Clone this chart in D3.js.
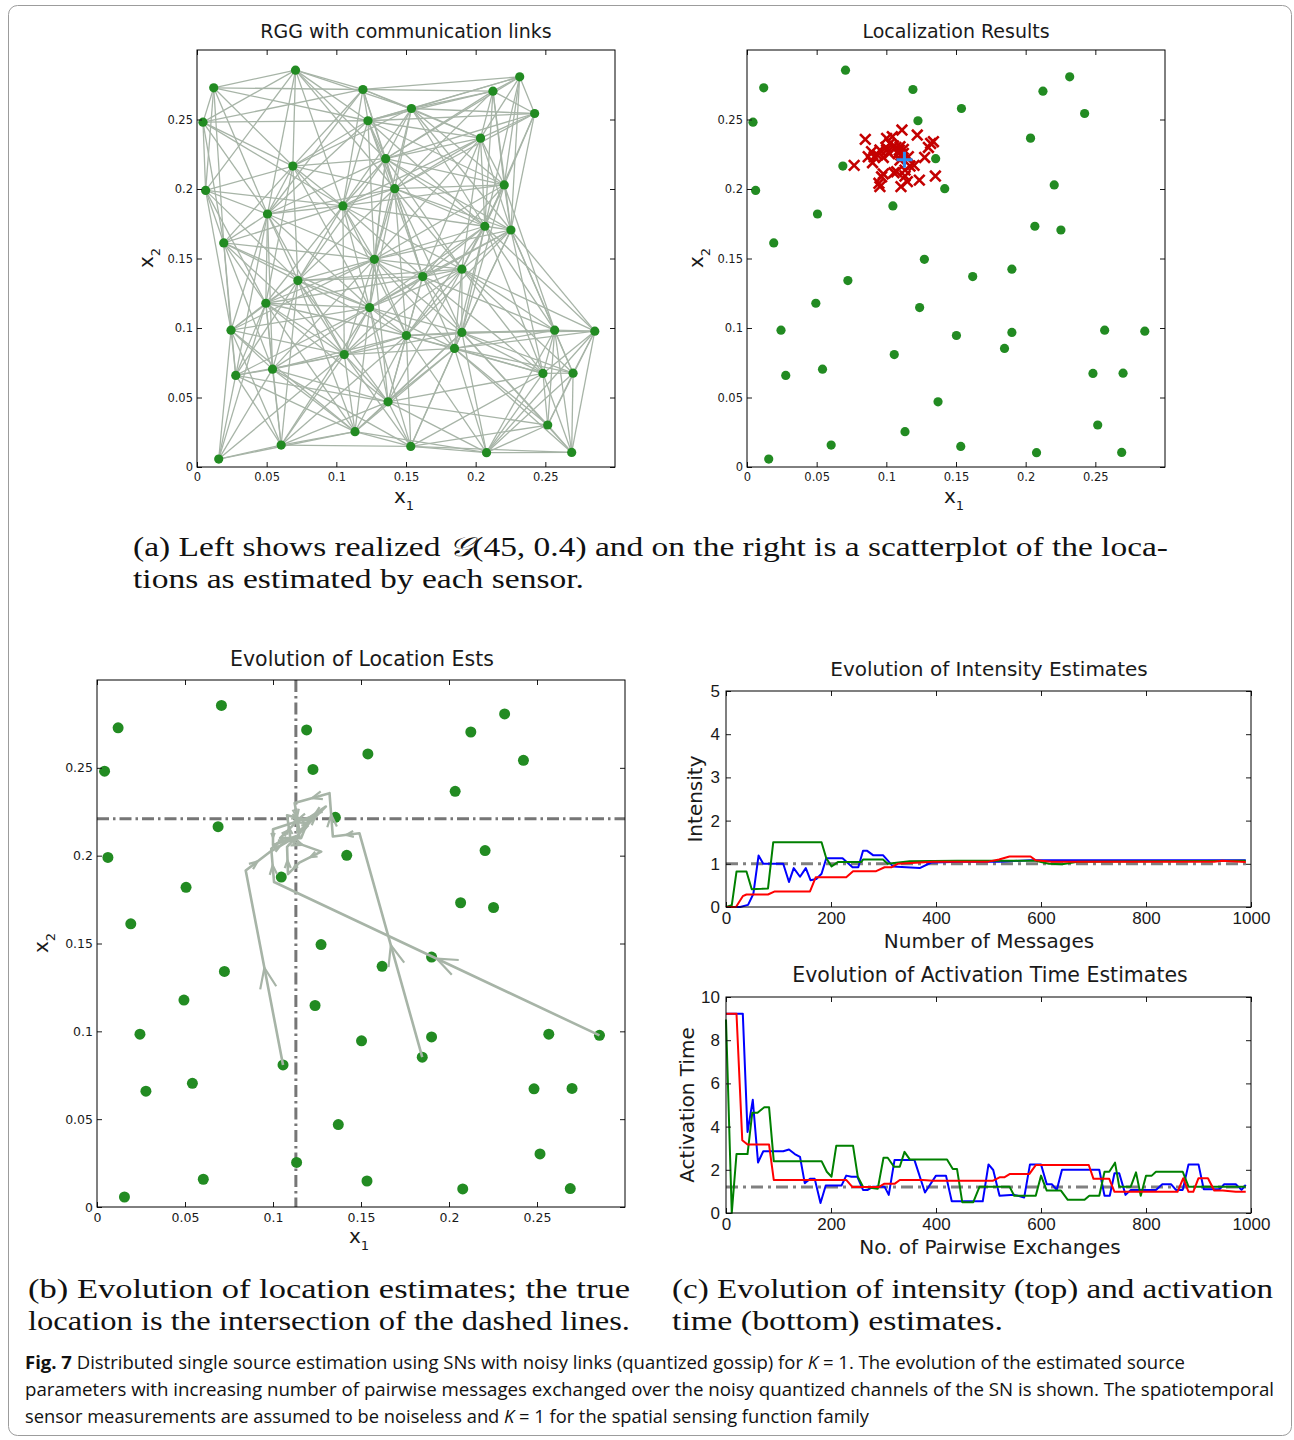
<!DOCTYPE html>
<html>
<head>
<meta charset="utf-8">
<script src="https://cdn.jsdelivr.net/npm/d3@7"></script>
<style>
  body { margin: 0; background: #fff; }
  svg { display: block; }
</style>
</head>
<body>
<svg id="fig" width="1294" height="1440"></svg>
<script>
// sensor positions (x1, x2)
const nodeX = [0.0707, 0.0120, 0.1191, 0.2316, 0.2124, 0.2423, 0.1539, 0.1227, 0.0043, 0.2035,
  0.1354, 0.0688, 0.0062, 0.1419, 0.2205, 0.1047, 0.0506, 0.2066, 0.2253, 0.0192,
  0.1273, 0.1901, 0.1620, 0.0724, 0.0494, 0.1239, 0.0244, 0.2567, 0.2855, 0.1901,
  0.1503, 0.1848, 0.1057, 0.0542, 0.0278, 0.2483, 0.2699, 0.1371, 0.1134, 0.2517,
  0.0604, 0.1534, 0.0156, 0.2078, 0.2689];
const nodeY = [0.2855, 0.2728, 0.2716, 0.2807, 0.2704, 0.2543, 0.2579, 0.2491, 0.2481, 0.2366,
  0.2218, 0.2165, 0.1990, 0.2002, 0.2029, 0.1878, 0.1820, 0.1732, 0.1705, 0.1612,
  0.1494, 0.1423, 0.1370, 0.1341, 0.1178, 0.1147, 0.0984, 0.0984, 0.0977, 0.0968,
  0.0946, 0.0853, 0.0809, 0.0704, 0.0659, 0.0673, 0.0675, 0.0469, 0.0254, 0.0302,
  0.0158, 0.0148, 0.0057, 0.0103, 0.0105];
const linkRadius = 0.12;   // G(45, 0.4) on a 0.3 square

// location estimates of each sensor
const estX = [0.0849, 0.0769, 0.0894, 0.0913, 0.0901, 0.0937, 0.1002, 0.1043, 0.1112, 0.1222,
  0.1338, 0.1302, 0.1275, 0.1199, 0.0997, 0.0978, 0.1021, 0.1069, 0.1093, 0.1122,
  0.1105, 0.1088, 0.1074, 0.1055, 0.1134, 0.1151, 0.1237, 0.1352, 0.0954, 0.0966,
  0.0978, 0.0947, 0.1105, 0.1170, 0.1098, 0.1052, 0.1026, 0.1002, 0.0954, 0.0870,
  0.1134, 0.1318, 0.1158, 0.1098, 0.1122];
const estY = [0.2357, 0.2170, 0.2268, 0.2232, 0.2189, 0.2244, 0.2364, 0.2376, 0.2424, 0.2388,
  0.2340, 0.2299, 0.2227, 0.2170, 0.2299, 0.2227, 0.2256, 0.2299, 0.2280, 0.2285,
  0.2244, 0.2256, 0.2124, 0.2117, 0.2093, 0.2053, 0.2064, 0.2093, 0.2017, 0.2088,
  0.2108, 0.2041, 0.2017, 0.2165, 0.2208, 0.2309, 0.2328, 0.2280, 0.2280, 0.2232,
  0.2136, 0.2328, 0.2232, 0.2304, 0.2256];
const trueLoc = [0.113, 0.221];

// location estimate trajectories of three sensors
const pathA = [[0.1057, 0.0809], [0.0845, 0.1915], [0.0980, 0.2020], [0.1100, 0.2090], [0.1080, 0.2230],
  [0.1200, 0.2200], [0.1160, 0.2100], [0.1040, 0.2100], [0.1120, 0.2180], [0.1130, 0.2210]];
const pathB = [[0.1848, 0.0853], [0.1491, 0.2128], [0.1340, 0.2109], [0.1321, 0.2356], [0.1123, 0.2300],
  [0.1150, 0.2140], [0.1245, 0.2230], [0.1000, 0.2150], [0.1000, 0.2060], [0.1150, 0.2110], [0.1130, 0.2210]];
const pathC = [[0.2855, 0.0977], [0.1006, 0.1850], [0.0990, 0.2040], [0.1060, 0.2100], [0.1274, 0.2023],
  [0.1150, 0.1960], [0.1085, 0.1895], [0.1080, 0.2050], [0.1180, 0.2160], [0.1300, 0.2280],
  [0.1180, 0.2200], [0.1135, 0.2215]];

// intensity estimates vs number of messages
const trueIntensity = 1;
const intBlue = [[0, 0], [27, 0], [42, 0.05], [52, 0.3], [62, 1.19], [71, 1.0], [109, 1.0], [120, 0.58], [129, 0.9],
  [141, 0.7], [152, 0.9], [161, 0.62], [172, 0.65], [182, 0.77], [191, 1.13], [222, 1.13], [241, 0.92], [252, 0.92],
  [261, 1.3], [269, 1.3], [280, 1.2], [299, 1.2], [318, 0.94], [369, 0.9], [391, 1.03], [450, 1.05], [520, 1.05],
  [540, 1.06], [580, 1.08], [700, 1.08], [990, 1.08]];
const intGreen = [[0, 0], [11, 0.04], [20, 0.82], [39, 0.82], [49, 0.41], [68, 0.42], [80, 0.43], [90, 1.5], [182, 1.5],
  [191, 1.13], [201, 0.94], [213, 1.04], [258, 1.04], [261, 1.1], [299, 1.1], [308, 1.0], [350, 1.06], [440, 1.07],
  [590, 1.07], [615, 1.0], [640, 0.99], [670, 1.05], [990, 1.07]];
const intRed = [[0, 0], [19, 0], [32, 0.25], [39, 0.29], [80, 0.29], [93, 0.36], [160, 0.36], [171, 0.69], [229, 0.69],
  [242, 0.83], [286, 0.83], [302, 0.92], [315, 0.92], [327, 1.0], [394, 1.05], [500, 1.05], [520, 1.1], [540, 1.17],
  [580, 1.17], [590, 1.08], [620, 1.05], [930, 1.05], [945, 1.07], [960, 1.06], [990, 1.04]];

// activation time estimates vs pairwise exchanges
const trueActivation = 1.2;
const actBlue = [[0, 9.23], [32, 9.23], [41, 3.75], [51, 5.24], [61, 2.34], [71, 2.86], [109, 2.86], [120, 2.94],
  [131, 2.73], [141, 2.6], [150, 1.38], [160, 1.58], [169, 1.58], [180, 0.46], [190, 1.27], [220, 1.27], [229, 1.73],
  [239, 1.68], [250, 1.68], [261, 1.07], [270, 1.07], [280, 1.22], [302, 1.22], [310, 0.84], [321, 2.45], [359, 2.45],
  [379, 0.95], [400, 1.73], [419, 1.73], [430, 0.54], [489, 0.54], [500, 2.25], [509, 1.99], [521, 0.8], [549, 0.84],
  [568, 0.72], [579, 2.25], [600, 2.25], [611, 1.33], [621, 1.33], [630, 1.07], [640, 2.0], [711, 2.0], [721, 0.8],
  [731, 0.8], [740, 1.84], [749, 1.84], [761, 0.84], [771, 1.07], [819, 1.07], [831, 1.33], [848, 1.33], [857, 1.07],
  [870, 1.07], [881, 2.25], [900, 2.25], [910, 1.1], [940, 1.1], [949, 1.33], [971, 1.33], [982, 1.07], [990, 1.3]];
const actGreen = [[0, 8.96], [11, 0], [20, 2.73], [41, 2.73], [50, 4.64], [60, 4.64], [73, 4.9], [82, 4.9], [91, 2.4],
  [182, 2.4], [192, 1.91], [201, 1.68], [210, 3.11], [242, 3.11], [251, 1.68], [261, 1.22], [289, 1.12], [300, 2.56],
  [308, 2.56], [320, 2.14], [331, 2.14], [340, 2.83], [350, 2.48], [421, 2.48], [432, 2.04], [440, 2.04], [450, 0.5],
  [471, 0.5], [483, 1.22], [540, 1.22], [549, 0.8], [590, 0.8], [600, 1.73], [611, 1.04], [638, 1.04], [651, 0.61],
  [683, 0.61], [692, 0.8], [711, 0.8], [721, 1.91], [730, 1.91], [741, 2.33], [749, 1.22], [771, 1.22], [781, 1.88],
  [790, 0.8], [800, 1.73], [811, 1.73], [819, 1.91], [870, 1.91], [881, 1.22], [990, 1.22]];
const actRed = [[0, 9.23], [20, 9.23], [31, 3.37], [41, 3.17], [82, 3.17], [91, 1.53], [229, 1.53], [241, 1.2],
  [291, 1.2], [301, 1.35], [321, 1.35], [331, 1.53], [375, 1.53], [394, 1.49], [508, 1.49], [521, 1.65], [530, 1.65],
  [541, 1.81], [578, 1.81], [590, 2.22], [691, 2.22], [700, 1.58], [730, 1.58], [740, 0.98], [860, 0.98], [871, 1.61],
  [881, 0.98], [890, 0.98], [900, 1.61], [918, 1.61], [930, 1.04], [946, 1.04], [971, 0.98], [990, 0.98]];

const posTicks = [0, 0.05, 0.1, 0.15, 0.2, 0.25];
const msgTicks = [0, 200, 400, 600, 800, 1000];
const intTicks = [0, 1, 2, 3, 4, 5];
const actTicks = [0, 2, 4, 6, 8, 10];

const GREEN = '#228b22';
const LINK = '#a7b4a7';
const SANS = 'DejaVu Sans, sans-serif';
const SERIF = 'Liberation Serif, DejaVu Serif, serif';

const svg = d3.select('#fig');

svg.append('rect')
  .attr('x', 8.5).attr('y', 5.5).attr('width', 1283).attr('height', 1430)
  .attr('rx', 9).attr('fill', 'none').attr('stroke', '#9c9c9c');

// Matlab-like box axes with inward ticks on all four sides
function makePanel(o) {
  const x = d3.scaleLinear().domain(o.xDomain).range([o.left, o.left + o.width]);
  const y = d3.scaleLinear().domain(o.yDomain).range([o.top + o.height, o.top]);
  const g = svg.append('g');
  const plot = g.append('g');
  const axes = g.append('g');
  const style = s => s.attr('font-family', o.font).attr('font-size', o.fontSize).attr('color', '#1a1a1a')
    .call(a => a.select('.domain').remove());

  axes.append('g').attr('transform', `translate(0,${o.top + o.height})`)
    .call(d3.axisBottom(x).tickValues(o.xTicks).tickFormat(o.fmt).tickSizeInner(-5).tickSizeOuter(0).tickPadding(o.padX))
    .call(style);
  axes.append('g').attr('transform', `translate(${o.left},0)`)
    .call(d3.axisLeft(y).tickValues(o.yTicks).tickFormat(o.fmt).tickSizeInner(-5).tickSizeOuter(0).tickPadding(o.padY))
    .call(style);
  axes.append('g').attr('transform', `translate(0,${o.top})`)
    .call(d3.axisTop(x).tickValues(o.xTicks).tickFormat('').tickSizeInner(-5).tickSizeOuter(0))
    .call(style);
  axes.append('g').attr('transform', `translate(${o.left + o.width},0)`)
    .call(d3.axisRight(y).tickValues(o.yTicks).tickFormat('').tickSizeInner(-5).tickSizeOuter(0))
    .call(style);
  axes.append('rect')
    .attr('x', o.left).attr('y', o.top).attr('width', o.width).attr('height', o.height)
    .attr('fill', 'none').attr('stroke', '#000').attr('stroke-width', 1);
  return { x, y, plot, g };
}

function title(text, cx, baseline, size) {
  svg.append('text').attr('x', cx).attr('y', baseline).attr('text-anchor', 'middle')
    .attr('font-family', SANS).attr('font-size', size).attr('fill', '#1a1a1a').text(text);
}

function subLabel(main, sub, cx, cy, size, rotate) {
  const t = svg.append('text')
    .attr('transform', rotate ? `translate(${cx},${cy}) rotate(-90)` : `translate(${cx},${cy})`)
    .attr('text-anchor', 'middle').attr('font-family', SANS).attr('font-size', size).attr('fill', '#1a1a1a');
  t.append('tspan').text(main);
  if (sub) t.append('tspan').attr('font-size', size * 0.65).attr('dy', size * 0.35).text(sub);
}

const posFmt = d => String(+d.toFixed(2));

function drawNodes(p, r) {
  p.plot.append('g').selectAll('circle').data(nodeX).join('circle')
    .attr('cx', d => p.x(d)).attr('cy', (d, i) => p.y(nodeY[i])).attr('r', r).attr('fill', GREEN);
}

// ---- (a) left: RGG with links
const pa = makePanel({ left: 197, top: 50, width: 418, height: 417, xDomain: [0, 0.3], yDomain: [0, 0.3],
  xTicks: posTicks, yTicks: posTicks, fmt: posFmt, font: SANS, fontSize: 11.5, padX: 6, padY: 4 });
const links = [];
for (let i = 0; i < nodeX.length; i++) {
  for (let j = i + 1; j < nodeX.length; j++) {
    if (Math.hypot(nodeX[i] - nodeX[j], nodeY[i] - nodeY[j]) < linkRadius) links.push([i, j]);
  }
}
pa.plot.append('g').selectAll('line').data(links).join('line')
  .attr('x1', d => pa.x(nodeX[d[0]])).attr('y1', d => pa.y(nodeY[d[0]]))
  .attr('x2', d => pa.x(nodeX[d[1]])).attr('y2', d => pa.y(nodeY[d[1]]))
  .attr('stroke', LINK).attr('stroke-width', 1.3);
drawNodes(pa, 4.6);
title('RGG with communication links', 406, 38, 19);
subLabel('x', '1', 404, 503, 20, false);
subLabel('x', '2', 153, 258, 20, true);

// ---- (a) right: localization results
const pb = makePanel({ left: 747, top: 50, width: 418, height: 417, xDomain: [0, 0.3], yDomain: [0, 0.3],
  xTicks: posTicks, yTicks: posTicks, fmt: posFmt, font: SANS, fontSize: 11.5, padX: 6, padY: 4 });
drawNodes(pb, 4.6);
const cross = 5.3;
pb.plot.append('g').selectAll('path').data(estX).join('path')
  .attr('d', (d, i) => {
    const cx = pb.x(d), cy = pb.y(estY[i]);
    return `M${cx - cross},${cy - cross}L${cx + cross},${cy + cross}M${cx - cross},${cy + cross}L${cx + cross},${cy - cross}`;
  })
  .attr('stroke', '#c40000').attr('stroke-width', 2.6).attr('fill', 'none');
const tx = pb.x(trueLoc[0]), ty = pb.y(trueLoc[1]);
pb.plot.append('path')
  .attr('d', `M${tx - 8},${ty}L${tx + 8},${ty}M${tx},${ty - 8}L${tx},${ty + 8}`)
  .attr('stroke', '#2d8cf0').attr('stroke-width', 3);
title('Localization Results', 956, 38, 19);
subLabel('x', '1', 954, 503, 20, false);
subLabel('x', '2', 703, 258, 20, true);

// ---- (b) evolution of location estimates
const pc = makePanel({ left: 97, top: 680, width: 528, height: 527, xDomain: [0, 0.3], yDomain: [0, 0.3],
  xTicks: posTicks, yTicks: posTicks, fmt: posFmt, font: SANS, fontSize: 12.5, padX: 6, padY: 4 });
pc.plot.append('line')
  .attr('x1', pc.x(trueLoc[0])).attr('x2', pc.x(trueLoc[0])).attr('y1', pc.y(0.3)).attr('y2', pc.y(0))
  .attr('stroke', '#767676').attr('stroke-width', 3).attr('stroke-dasharray', '12,4,2.5,4');
pc.plot.append('line')
  .attr('x1', pc.x(0)).attr('x2', pc.x(0.3)).attr('y1', pc.y(trueLoc[1])).attr('y2', pc.y(trueLoc[1]))
  .attr('stroke', '#767676').attr('stroke-width', 3).attr('stroke-dasharray', '12,4,2.5,4');
drawNodes(pc, 5.5);
const traj = pc.plot.append('g').attr('stroke', LINK).attr('fill', 'none').attr('stroke-width', 2.6)
  .attr('stroke-linejoin', 'round');
const pathLine = d3.line().x(d => pc.x(d[0])).y(d => pc.y(d[1]));
[pathA, pathB, pathC].forEach(path => {
  traj.append('path').attr('d', pathLine(path));
  // open arrowheads at the middle of each step
  for (let k = 0; k < path.length - 1; k++) {
    const x0 = pc.x(path[k][0]), y0 = pc.y(path[k][1]);
    const x1 = pc.x(path[k + 1][0]), y1 = pc.y(path[k + 1][1]);
    const len = Math.hypot(x1 - x0, y1 - y0);
    if (len < 8) continue;
    const ang = Math.atan2(y1 - y0, x1 - x0);
    const head = Math.min(22, Math.max(4, 0.3 * len));
    const mx = (x0 + x1) / 2, my = (y0 + y1) / 2;
    const w = 0.38;
    traj.append('path').attr('stroke-width', 2.2)
      .attr('d', `M${mx - head * Math.cos(ang - w)},${my - head * Math.sin(ang - w)}L${mx},${my}` +
        `L${mx - head * Math.cos(ang + w)},${my - head * Math.sin(ang + w)}`);
  }
});
title('Evolution of Location Ests', 362, 666, 20.5);
subLabel('x', '1', 359, 1243, 20, false);
subLabel('x', '2', 48, 943, 20, true);

// ---- (c) intensity and activation time
const seriesColors = ['#0000ff', '#008000', '#ff0000'];
function drawSeries(p, list, truth) {
  p.plot.append('line')
    .attr('x1', p.x(0)).attr('x2', p.x(1000)).attr('y1', p.y(truth)).attr('y2', p.y(truth))
    .attr('stroke', '#808080').attr('stroke-width', 3).attr('stroke-dasharray', '12,5,3,5');
  const line = d3.line().x(d => p.x(d[0])).y(d => p.y(d[1]));
  list.forEach((s, i) => {
    p.plot.append('path').attr('d', line(s)).attr('fill', 'none')
      .attr('stroke', seriesColors[i]).attr('stroke-width', 2).attr('stroke-linejoin', 'round');
  });
}
const FONT_TS = 'Liberation Sans, Arial, sans-serif';
const pd = makePanel({ left: 726, top: 691, width: 525, height: 216, xDomain: [0, 1000], yDomain: [0, 5],
  xTicks: msgTicks, yTicks: intTicks, fmt: d3.format('d'), font: FONT_TS, fontSize: 17, padX: 5, padY: 6 });
drawSeries(pd, [intBlue, intGreen, intRed], trueIntensity);
title('Evolution of Intensity Estimates', 989, 676, 20);
subLabel('Number of Messages', null, 989, 948, 20, false);
subLabel('Intensity', null, 702, 799, 20, true);

const pe = makePanel({ left: 726, top: 997, width: 525, height: 216, xDomain: [0, 1000], yDomain: [0, 10],
  xTicks: msgTicks, yTicks: actTicks, fmt: d3.format('d'), font: FONT_TS, fontSize: 17, padX: 5, padY: 6 });
drawSeries(pe, [actBlue, actGreen, actRed], trueActivation);
title('Evolution of Activation Time Estimates', 990, 982, 20.5);
subLabel('No. of Pairwise Exchanges', null, 990, 1254, 20, false);
subLabel('Activation Time', null, 694, 1105, 20, true);

// ---- captions
function captionLine(x, baseline, width, parts, size, family) {
  const t = svg.append('text').attr('x', x).attr('y', baseline)
    .attr('font-family', family).attr('font-size', size).attr('fill', '#111');
  if (width) t.attr('textLength', width).attr('lengthAdjust', 'spacingAndGlyphs');
  parts.forEach(p => {
    const s = t.append('tspan').text(p.t);
    if (p.i) s.attr('font-style', 'italic');
    if (p.b) s.attr('font-weight', 'bold');
  });
}
captionLine(133, 556, 1035, [{ t: '(a) Left shows realized ' }, { t: '\u{1D4A2}', i: true },
  { t: '(45, 0.4) and on the right is a scatterplot of the loca-' }], 27, SERIF);
captionLine(133, 588, 451, [{ t: 'tions as estimated by each sensor.' }], 27, SERIF);
captionLine(28, 1298, 602, [{ t: '(b) Evolution of location estimates; the true' }], 27, SERIF);
captionLine(28, 1330, 602, [{ t: 'location is the intersection of the dashed lines.' }], 27, SERIF);
captionLine(672, 1298, 601, [{ t: '(c) Evolution of intensity (top) and activation' }], 27, SERIF);
captionLine(672, 1330, 331, [{ t: 'time (bottom) estimates.' }], 27, SERIF);

const CAP = 'Open Sans, Noto Sans, sans-serif';
captionLine(25, 1369, 1160, [{ t: 'Fig. 7', b: true },
  { t: ' Distributed single source estimation using SNs with noisy links (quantized gossip) for ' },
  { t: 'K', i: true }, { t: ' = 1. The evolution of the estimated source' }], 18, CAP);
captionLine(25, 1396, 1249, [{ t: 'parameters with increasing number of pairwise messages exchanged over the noisy quantized channels of the SN is shown. The spatiotemporal' }], 18, CAP);
captionLine(25, 1423, 844, [{ t: 'sensor measurements are assumed to be noiseless and ' }, { t: 'K', i: true },
  { t: ' = 1 for the spatial sensing function family' }], 18, CAP);
</script>
</body>
</html>
